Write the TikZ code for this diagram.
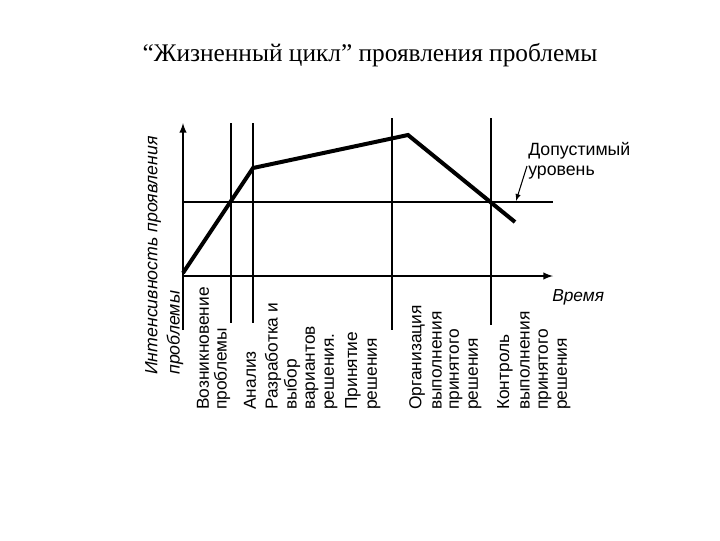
\documentclass[tikz,border=0pt]{standalone}
\usepackage{fontspec}
\setmainfont{Liberation Sans}
\newfontfamily\serifr{Liberation Serif}
\begin{document}
\begin{tikzpicture}[x=0.75pt,y=-0.75pt,
  ln/.style={line width=1.5pt},
  crv/.style={line width=3pt,line join=miter},
  lbl/.style={rotate=90,anchor=west,inner sep=0pt,font=\fontsize{13}{15}\selectfont},
  ylbl/.style={rotate=90,anchor=west,inner sep=0pt,font=\fontsize{13.3}{15}\selectfont\itshape}]
\useasboundingbox (0,0) rectangle (720,540);
\node[font=\serifr\fontsize{19}{22}\selectfont] (title) at (370,55) {“Жизненный цикл” проявления проблемы};
% axes
\coordinate (o) at (183,276);
\coordinate (ytop) at (183,123);
\coordinate (ybot) at (183,330);
\coordinate (xend) at (553,276);
\draw[ln] (ybot) -- (o);
\draw[ln,-latex] (o) -- (ytop);
\draw[ln,-latex] (o) -- (xend);
\coordinate (l1) at (183,202); \coordinate (l2) at (553,202);
\draw[ln] (l1) -- (l2);
% verticals
\foreach \n/\x/\a/\b in {v1/231/123/323, v2/253/123/323, v3/392/118/330, v4/491/118/325}{
  \coordinate (\n a) at (\x,\a); \coordinate (\n b) at (\x,\b);
  \draw[ln] (\n a) -- (\n b);}
% curve
\coordinate (c0) at (183,273); \coordinate (c1) at (253,168);
\coordinate (c2) at (408,135); \coordinate (c3) at (515,222);
\draw[crv] (c0) -- (c1) -- (c2) -- (c3);
% labels
\node[font=\fontsize{13.3}{15}\selectfont,align=left,anchor=north west,inner sep=0pt] (dop) at (528,142) {Допустимый\\уровень};
\coordinate (arr) at (516,201);
\draw[line width=0.8pt,-latex] (527,166) -- (arr);
\node[font=\fontsize{13}{15}\selectfont\itshape,anchor=west,inner sep=0pt] (time) at (552,297) {Время};
\node[ylbl] (y1) at (153,375) {Интенсивность проявления};
\node[ylbl] (y2) at (175,375) {проблемы};
\foreach \n/\x/\t in {a/203/Возникновение, b/222/проблемы, c/250/Анализ,
  d/273/Разработка и, e/292/выбор, f/312/вариантов, g/331/решения., h/353/Принятие, i/374/решения,
  j/417/Организация, k/437/выполнения, l/456/принятого, m/475/решения,
  n/505/Контроль, o2/525/выполнения, p/545/принятого, q/564/решения}{
  \node[lbl] (t\n) at (\x,410) {\t};}
\end{tikzpicture}
\end{document}
